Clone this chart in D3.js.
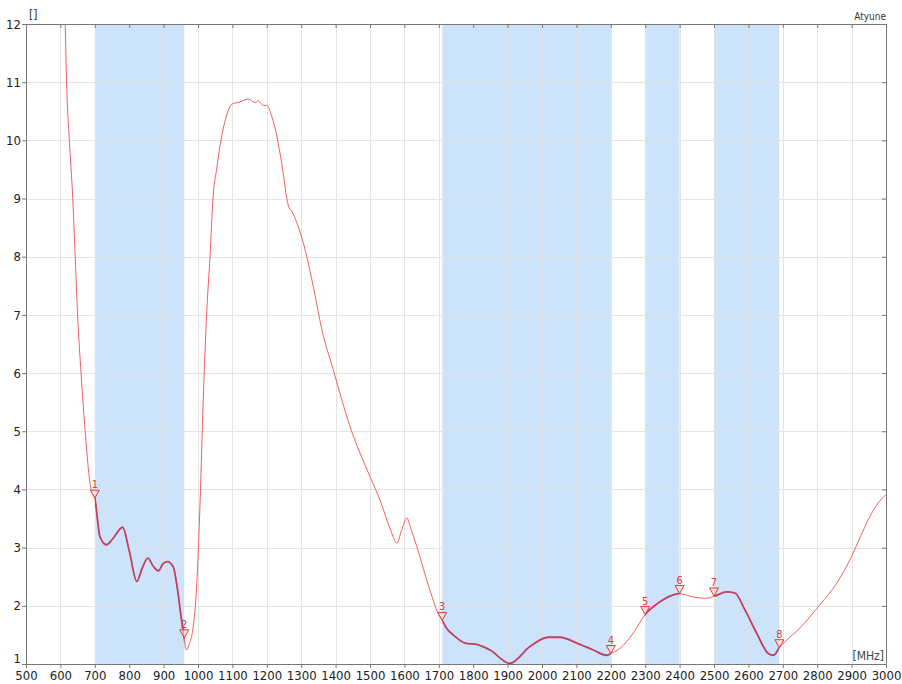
<!DOCTYPE html>
<html>
<head>
<meta charset="utf-8">
<script src="https://cdn.jsdelivr.net/npm/d3@7"></script>
<style>
  html, body { margin: 0; padding: 0; background: #fff; }
  svg { display: block; font-family: 'DejaVu Sans Condensed', 'Liberation Sans', sans-serif; }
</style>
</head>
<body>
<svg id="chart" width="902" height="684"></svg>
<script>
// frequency (MHz) and value
const freq = [
  610, 614, 618, 626, 636, 643, 650, 660, 672, 689, 700, 715, 734, 752, 781, 800, 822, 838,
  854, 870, 885, 898, 911, 928, 940, 950, 960, 966, 975, 986, 996, 1006, 1015, 1025, 1035,
  1044, 1054, 1069, 1083, 1098, 1122, 1146, 1166, 1175, 1190, 1200, 1214, 1229, 1243, 1263,
  1272, 1287, 1311, 1335, 1360, 1393, 1442, 1500, 1529, 1560, 1578, 1592, 1607, 1620, 1636,
  1674, 1703, 1710, 1723, 1742, 1776, 1815, 1849, 1907, 1965, 2018, 2052, 2101, 2149, 2188,
  2200, 2227, 2265, 2300, 2343, 2382, 2400, 2440, 2479, 2503, 2537, 2561, 2590, 2624, 2658,
  2673, 2690, 2706, 2750, 2808, 2857, 2900, 2925, 2950, 2975, 3000
];
const value = [
  12.8, 12.0, 11.0, 10.0, 9.0, 8.0, 7.0, 6.0, 5.0, 4.0, 3.85, 3.19, 3.05, 3.15, 3.35, 2.95, 2.42, 2.65,
  2.82, 2.68, 2.60, 2.72, 2.76, 2.67, 2.30, 1.85, 1.45, 1.24, 1.35, 1.64, 2.33, 3.77, 5.5, 7.0, 8.01,
  9.04, 9.5, 10.08, 10.42, 10.62, 10.66, 10.71, 10.65, 10.68, 10.6, 10.6, 10.42, 10.08, 9.62, 8.87,
  8.79, 8.59, 8.13, 7.49, 6.75, 6.06, 5.08, 4.22, 3.82, 3.3, 3.08, 3.3, 3.51, 3.3, 3.02,
  2.27, 1.81, 1.75, 1.61, 1.50, 1.36, 1.33, 1.24, 1.01, 1.30, 1.46, 1.46, 1.36, 1.24, 1.15,
  1.18, 1.27, 1.53, 1.85, 2.07, 2.19, 2.21, 2.15, 2.13, 2.17, 2.24, 2.22, 1.93, 1.53, 1.18,
  1.15, 1.28, 1.38, 1.62, 2.02, 2.39, 2.85, 3.18, 3.50, 3.75, 3.91
];

// shaded frequency bands [start, end]
const bandStart = [700, 1710, 2300, 2500];
const bandEnd   = [960, 2200, 2400, 2690];

// markers
const markerLabel = ['1', '2', '3', '4', '5', '6', '7', '8'];
const markerFreq  = [700, 960, 1710, 2200, 2300, 2400, 2500, 2690];
const markerValue = [3.85, 1.45, 1.75, 1.18, 1.85, 2.21, 2.17, 1.28];

const xTicks = d3.range(500, 3001, 100);
const yTicks = d3.range(1, 13, 1);

const M = { top: 24, right: 16, bottom: 20, left: 26 };
const W = 902, H = 684;
const FONT = "'DejaVu Sans Condensed', 'Liberation Sans', sans-serif";
const LINE = '#f06060';
const LINE_BAND = '#c04462';
const BAND = '#cce3fa';
const GRID = '#e2e2e2';
const AXIS = '#777';

const svg = d3.select('#chart');
const x = d3.scaleLinear().domain([500, 3000]).range([M.left, W - M.right]);
const y = d3.scaleLinear().domain([1, 12]).range([H - M.bottom, M.top]);

const pts = freq.map((f, i) => ({ f, v: value[i] }));
const bands = bandStart.map((s, i) => ({ s, e: bandEnd[i] }));

// Clip to plot
const defs = svg.append('defs');
defs.append('clipPath').attr('id', 'plot-clip')
  .append('rect')
  .attr('x', x(500)).attr('y', y(12))
  .attr('width', x(3000) - x(500)).attr('height', y(1) - y(12));
defs.append('clipPath').attr('id', 'band-clip')
  .selectAll('rect')
  .data(bands)
  .join('rect')
  .attr('x', d => x(d.s)).attr('y', y(12))
  .attr('width', d => x(d.e) - x(d.s)).attr('height', y(1) - y(12));

// Bands
svg.append('g')
  .selectAll('rect')
  .data(bands)
  .join('rect')
  .attr('x', d => x(d.s)).attr('y', y(12))
  .attr('width', d => x(d.e) - x(d.s)).attr('height', y(1) - y(12))
  .attr('fill', BAND);

// Grid
const grid = svg.append('g').attr('stroke', GRID).attr('stroke-width', 1).attr('opacity', 0.9);
grid.selectAll('.gx')
  .data(xTicks.slice(1, -1))
  .join('line')
  .attr('x1', d => Math.round(x(d)) + 0.5).attr('x2', d => Math.round(x(d)) + 0.5)
  .attr('y1', y(12)).attr('y2', y(1));
grid.selectAll('.gy')
  .data(yTicks.slice(1, -1))
  .join('line')
  .attr('x1', x(500)).attr('x2', x(3000))
  .attr('y1', d => Math.round(y(d)) + 0.5).attr('y2', d => Math.round(y(d)) + 0.5);

// Trace
const line = d3.line().x(d => x(d.f)).y(d => y(d.v)).curve(d3.curveMonotoneX);
svg.append('path')
  .datum(pts)
  .attr('clip-path', 'url(#plot-clip)')
  .attr('fill', 'none').attr('stroke', LINE).attr('stroke-width', 1)
  .attr('d', line);
svg.append('g').attr('clip-path', 'url(#band-clip)')
  .append('path')
  .datum(pts)
  .attr('fill', 'none').attr('stroke', LINE_BAND).attr('stroke-width', 1.8)
  .attr('d', line);

// Axes
const axisStyle = g => {
  g.select('.domain').attr('stroke', AXIS);
  g.selectAll('.tick line').attr('stroke', AXIS);
  g.selectAll('.tick text').attr('fill', '#222').attr('font-size', 13).attr('font-family', FONT);
};

svg.append('g')
  .attr('transform', `translate(0,${y(1)})`)
  .call(d3.axisBottom(x).tickValues(xTicks).tickFormat(d3.format('d')).tickSizeInner(4).tickSizeOuter(0).tickPadding(3))
  .call(axisStyle);

svg.append('g')
  .attr('transform', `translate(0,${y(12)})`)
  .call(d3.axisTop(x).tickValues(xTicks).tickFormat('').tickSizeInner(-4).tickSizeOuter(0))
  .call(axisStyle);

const yAxis = svg.append('g')
  .attr('transform', `translate(${x(500)},0)`)
  .call(d3.axisLeft(y).tickValues(yTicks).tickFormat(d3.format('d')).tickSizeInner(4).tickSizeOuter(0).tickPadding(1))
  .call(axisStyle);
// lift the bottom label a little so it clears the x labels
yAxis.selectAll('.tick text').filter(d => d === 1).attr('dy', '-0.1em');

svg.append('g')
  .attr('transform', `translate(${x(3000)},0)`)
  .call(d3.axisRight(y).tickValues(yTicks).tickFormat('').tickSizeInner(-4).tickSizeOuter(0))
  .call(axisStyle);

// Markers
const mk = svg.append('g')
  .selectAll('g')
  .data(markerFreq.map((f, i) => ({ f, v: markerValue[i], label: markerLabel[i] })))
  .join('g')
  .attr('transform', d => `translate(${x(d.f)},${y(d.v)})`);
mk.append('path')
  .attr('d', 'M0,0 L-4.5,-8 L4.5,-8 Z')
  .attr('fill', '#ffd6d6').attr('fill-opacity', 0.6)
  .attr('stroke', '#e03a3a').attr('stroke-width', 1);
mk.append('text')
  .attr('x', 0).attr('y', -10)
  .attr('text-anchor', 'middle')
  .attr('fill', '#e03a3a').attr('font-size', 11).attr('font-family', FONT)
  .text(d => d.label);

// Labels
svg.append('text')
  .attr('x', x(500) + 3).attr('y', y(12) - 5)
  .attr('fill', '#333').attr('font-size', 12).attr('font-family', FONT)
  .text('[]');
svg.append('text')
  .attr('x', x(3000)).attr('y', y(12) - 4)
  .attr('text-anchor', 'end')
  .attr('fill', '#333').attr('font-size', 10).attr('font-family', FONT)
  .text('Atyune');
svg.append('text')
  .attr('x', x(3000) - 2).attr('y', y(1) - 4)
  .attr('text-anchor', 'end')
  .attr('fill', '#444').attr('font-size', 12).attr('font-family', FONT)
  .text('[MHz]');
</script>
</body>
</html>
